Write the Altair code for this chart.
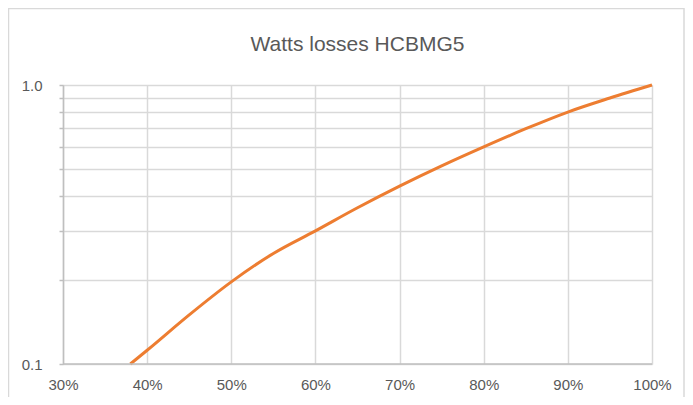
import altair as alt
import pandas as pd

load = [0.38, 0.40, 0.45, 0.50, 0.55, 0.60, 0.65, 0.70, 0.75, 0.80, 0.85, 0.90, 0.95, 1.00]
losses = [0.100, 0.112, 0.150, 0.197, 0.249, 0.300, 0.363, 0.434, 0.513, 0.600, 0.697, 0.800, 0.898, 1.000]
x_ticks = [0.3, 0.4, 0.5, 0.6, 0.7, 0.8, 0.9, 1.0]
y_ticks = [0.1, 0.2, 0.3, 0.4, 0.5, 0.6, 0.7, 0.8, 0.9, 1.0]
title_text = ["Watts losses HCBMG5"]

df = pd.DataFrame({"load": load, "loss": losses})

W, H = 589, 279
FONT = "Liberation Sans"
TXT = "#595959"

line = alt.Chart(df).mark_line(color="#ED7D31", strokeWidth=3, interpolate="monotone").encode(
    x=alt.X("load:Q",
            scale=alt.Scale(domain=[0.3, 1.0], nice=False, zero=False),
            axis=alt.Axis(values=x_ticks, format=".0%", title=None, ticks=False,
                          labelPadding=13, labelFontSize=15, labelColor=TXT,
                          labelFont=FONT, domain=False, gridColor="#d9d9d9", gridWidth=1.5,
                          labelFlush=False)),
    y=alt.Y("loss:Q",
            scale=alt.Scale(type="log", domain=[0.1, 1.0], nice=False),
            axis=alt.Axis(values=y_ticks, format=".1f", title=None,
                          labelExpr="(datum.value < 0.15 || datum.value > 0.95) ? format(datum.value, '.1f') : ''",
                          tickSize=4, tickColor="#bfbfbf", tickWidth=1.5,
                          labelPadding=17, labelFontSize=15, labelColor=TXT,
                          labelFont=FONT, domainColor="#bfbfbf", domainWidth=1.5,
                          gridColor="#d9d9d9", gridWidth=1.5)),
)

xbase = alt.Chart(pd.DataFrame({"v": [0]})).mark_rule(color="#bfbfbf", strokeWidth=1.5).encode(
    x=alt.value(0), x2=alt.value(W), y=alt.value(H)
)

border = alt.Chart(pd.DataFrame({"v": [0]})).mark_rect(
    fill=None, stroke="#d9d9d9", strokeWidth=1.5, clip=False
).encode(
    x=alt.value(-54.5), x2=alt.value(W + 32), y=alt.value(-76.5), y2=alt.value(H + 60)
)

title = alt.Chart(pd.DataFrame({"t": title_text})).mark_text(
    font=FONT, fontSize=21, color=TXT, align="center", baseline="alphabetic"
).encode(text="t:N", x=alt.value(W / 2), y=alt.value(-34))

chart = alt.layer(border, line, xbase, title).properties(
    width=W, height=H,
    autosize=alt.AutoSizeParams(type="none"),
    padding={"left": 55, "top": 77, "right": 33, "bottom": 33},
).configure_view(stroke=None).configure(background="white")

chart.save("out.html", embed_options={"renderer": "svg", "actions": False})
